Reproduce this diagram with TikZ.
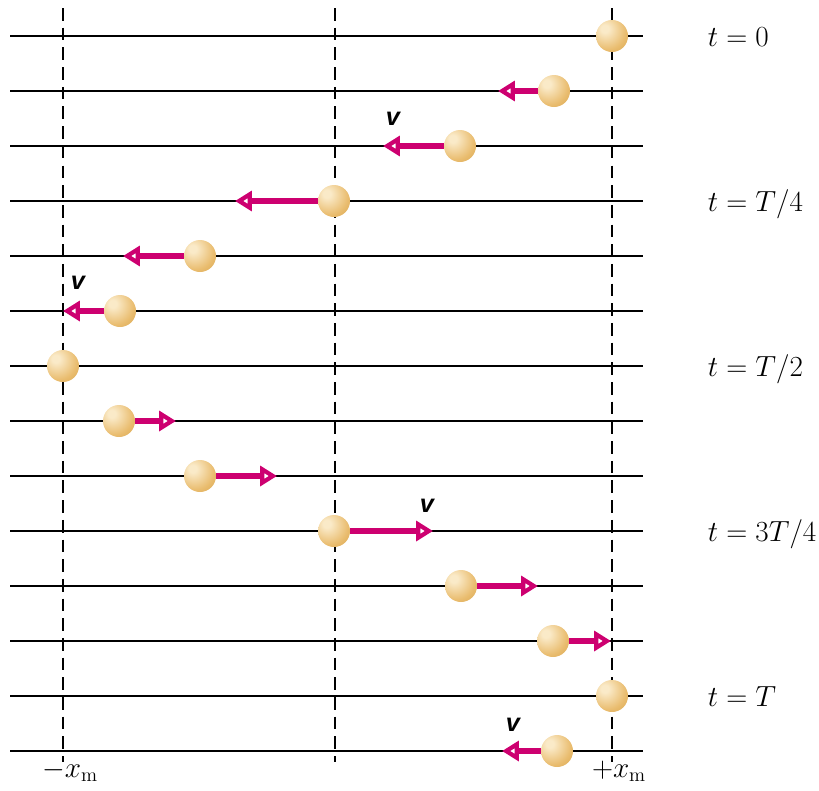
\documentclass[tikz,border=0pt]{standalone}
\usepackage{fontspec}
\newfontfamily\velfont{Liberation Sans}
\usetikzlibrary{arrows.meta}
\definecolor{velmagenta}{RGB}{205, 0, 112}
\definecolor{ballhi}{RGB}{250, 234, 200}
\definecolor{ballmid}{RGB}{233, 188, 110}
\definecolor{balledge}{RGB}{205, 152, 62}
\pgfdeclareradialshading{goldball}{\pgfpoint{-12bp}{12bp}}{color(0bp)=(ballhi); color(6bp)=(ballhi); color(30bp)=(ballmid); color(56bp)=(balledge); color(100bp)=(balledge)}

\begin{document}
\begin{tikzpicture}[
  x=0.025cm, y=-0.025cm,
  track/.style={line width=1.5pt},
  guide/.style={line width=1.4pt, dash pattern=on 9pt off 5pt},
  ball/.style={circle, minimum size=0.8cm, inner sep=0pt, shading=goldball},
  vel/.style={line width=4.2pt, velmagenta, -{Triangle[fill=white, length=12pt, width=14pt]}},
  vlabel/.style={font=\velfont\fontsize{18}{20}\selectfont\bfseries\itshape},
  tlabel/.style={anchor=base west, font=\fontsize{20}{24}\selectfont},
  xlabel/.style={anchor=base, font=\fontsize{20}{24}\selectfont}
]
  \useasboundingbox (0,0) rectangle (819,790);

  % Tracks
  \foreach \i in {0,...,13}
    \draw[track] (10, {36+55*\i}) -- (643, {36+55*\i});

  % Turning points and equilibrium
  \draw[guide] (63, 8) -- (63, 762);
  \draw[guide] (335, 8) -- (335, 762);
  \draw[guide] (612, 8) -- (612, 762);

  % Balls
  \foreach \bx [count=\i from 0] in {612, 554, 460, 334, 200, 120, 63, 119, 200, 334, 461, 553, 612, 557}
    \node[ball] (b\i) at (\bx, {36+55*\i}) {};

  % Velocity arrows
  \foreach \i/\tx in {1/498, 2/383, 3/235, 4/123, 5/63, 7/176, 8/277, 9/433, 10/538, 11/611, 13/502} {
    \coordinate (v\i) at (\tx, {36+55*\i});
    \draw[vel] (b\i) -- (v\i);
  }
  \node[vlabel] (lv2) at (393, 119) {v};
  \node[vlabel] (lv5) at (78, 283) {v};
  \node[vlabel] (lv9) at (427, 506) {v};
  \node[vlabel] (lv13) at (513, 725) {v};

  % Times
  \node[tlabel] (t0) at (703, 46) {$t=0$};
  \node[tlabel] (t1) at (703, 211) {$t=T/4$};
  \node[tlabel] (t2) at (703, 376) {$t=T/2$};
  \node[tlabel] (t3) at (703, 541) {$t=3T/4$};
  \node[tlabel] (t4) at (703, 706) {$t=T$};

  % Amplitude
  \node[xlabel] (xneg) at (70, 777) {$-x_{\mathrm{m}}$};
  \node[xlabel] (xpos) at (619, 777) {$+x_{\mathrm{m}}$};
\end{tikzpicture}
\end{document}
